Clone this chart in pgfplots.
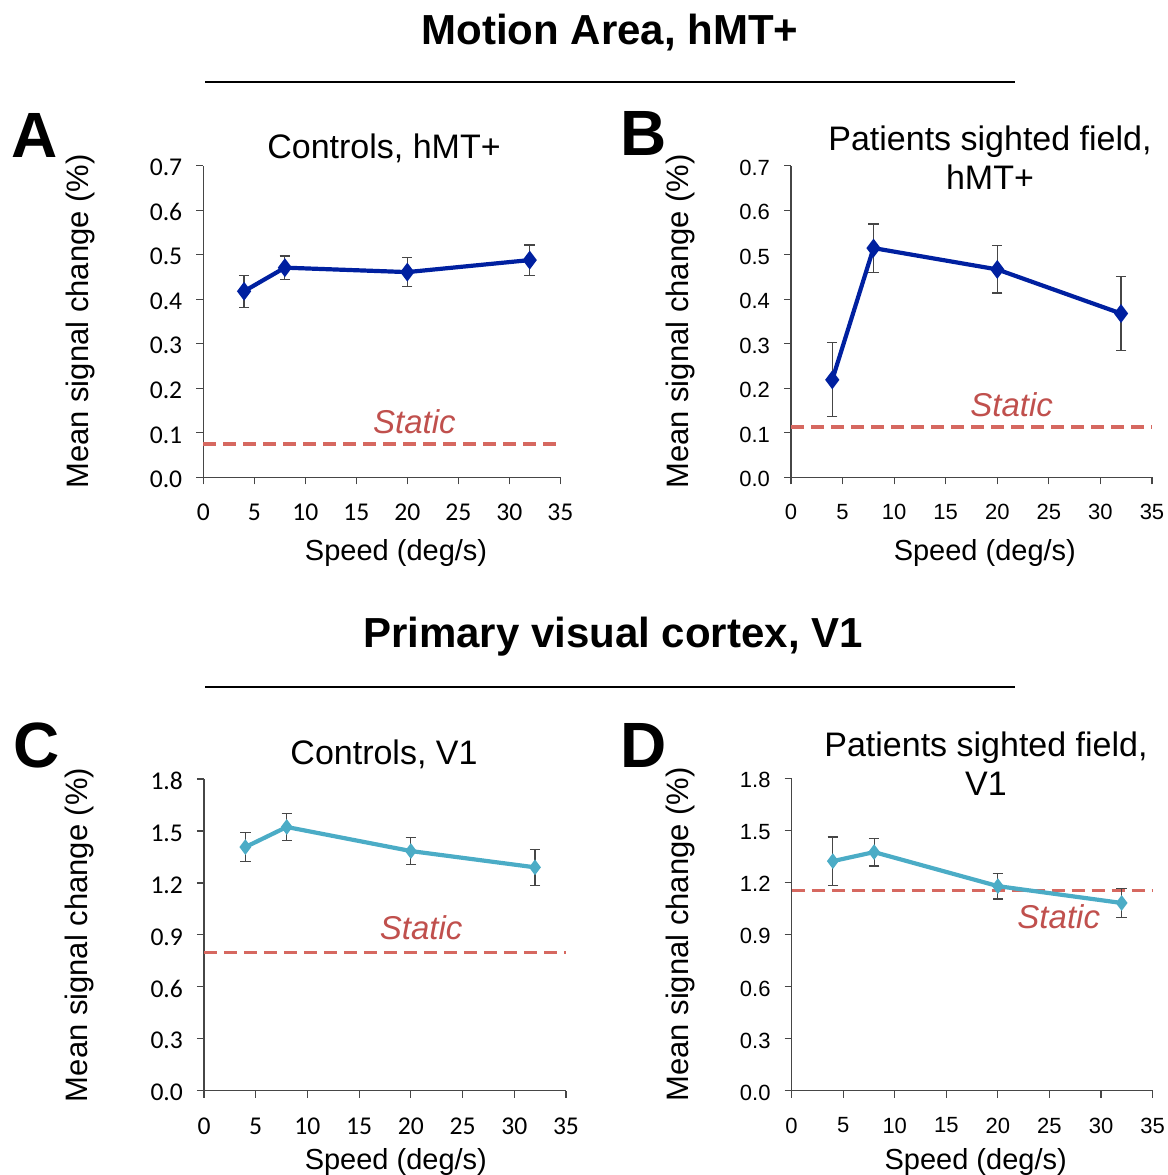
\documentclass[border=0pt]{standalone}
\usepackage{fontspec}
\setmainfont{Liberation Sans}
\newfontfamily\carlito{Carlito}
\usepackage{pgfplots}
\pgfplotsset{compat=1.18}
\definecolor{dblue}{RGB}{0,32,160}
\definecolor{lblue}{RGB}{75,172,198}
\definecolor{sred}{RGB}{192,80,77}
\definecolor{dred}{RGB}{214,104,96}
\definecolor{axgray}{RGB}{70,70,70}
\tikzset{statictext/.style={font=\itshape\fontsize{16.5}{18}\selectfont, text=sred}}
\pgfplotsset{
  panel/.style={
    scale only axis, anchor=south west,
    axis x line*=bottom, axis y line*=left,
    axis line style={axgray, line width=0.6pt},
    tick style={axgray, line width=0.6pt},
    tick align=outside, major tick length=3.5pt,
    xmin=0, xmax=35, xtick={0,5,10,15,20,25,30,35},
    clip=false,
    /pgf/number format/assume math mode=true,
    scaled y ticks=false,
    yticklabel style={/pgf/number format/fixed, /pgf/number format/fixed zerofill, /pgf/number format/precision=1, xshift=-3.5pt, yshift=-1pt},
    xticklabel style={yshift=-6.5pt},
    xlabel style={font=\fontsize{14.5}{17}\selectfont, anchor=center},
    ylabel style={font=\fontsize{15.5}{18}\selectfont, anchor=center},
    xlabel={Speed (deg/s)}, ylabel={Mean signal change (\%)},
  },
  ebar/.style={error bars/.cd, y dir=both, y explicit,
    error bar style={axgray, line width=0.6pt, solid},
    error mark options={rotate=90, mark size=2.6pt, axgray, line width=0.6pt, solid}},
  static/.style={dred, dash pattern=on 6.5pt off 3.5pt, line width=1.6pt, mark=none, forget plot},
  darkline/.style={dblue, line width=2.1pt, mark=diamond*, mark size=3pt, mark options={solid, fill=dblue, draw=dblue}},
  lightline/.style={lblue, line width=2.1pt, mark=diamond*, mark size=2.2pt, mark options={solid, fill=lblue, draw=lblue}},
}
\begin{document}
\begin{tikzpicture}
\useasboundingbox (0,0) rectangle (584pt,-587.5pt);
% section titles
\node[font=\bfseries\fontsize{21}{24}\selectfont] at (305pt,-16.5pt) {Motion Area, hMT+};
\draw[line width=1pt] (102.5pt,-41pt) -- (507.5pt,-41pt);
\node[font=\bfseries\fontsize{21}{24}\selectfont] at (306.5pt,-318.5pt) {Primary visual cortex, V1};
\draw[line width=1pt] (102.5pt,-343.5pt) -- (507.5pt,-343.5pt);
% panel letters
\node[font=\bfseries\fontsize{32}{36}\selectfont, anchor=base west, inner sep=0pt] at (5.5pt,-78.5pt) {A};
\node[font=\bfseries\fontsize{32}{36}\selectfont, anchor=base west, inner sep=0pt] at (310pt,-77.5pt) {B};
\node[font=\bfseries\fontsize{32}{36}\selectfont, anchor=base west, inner sep=0pt] at (6.5pt,-383.5pt) {C};
\node[font=\bfseries\fontsize{32}{36}\selectfont, anchor=base west, inner sep=0pt] at (310pt,-383.5pt) {D};
% panel titles
\node[font=\fontsize{17}{19.5}\selectfont] at (192pt,-74pt) {Controls, hMT+};
\node[font=\fontsize{17}{19.5}\selectfont, align=center] at (495pt,-78.75pt) {Patients sighted field,\\hMT+};
\node[font=\fontsize{17}{19.5}\selectfont] at (192pt,-377pt) {Controls, V1};
\node[font=\fontsize{17}{19.5}\selectfont, align=center] at (493pt,-381.75pt) {Patients sighted field,\\V1};

% Panel A
\begin{axis}[panel, at={(101.65pt,-238.65pt)}, width=178.5pt, height=155.8pt,
  ymin=0, ymax=0.7, ytick={0,0.1,0.2,0.3,0.4,0.5,0.6,0.7},
  ticklabel style={font=\carlito\fontsize{12.8}{14}\selectfont},
  ylabel style={at={(axis description cs:-0.345,0.5)}},
  xlabel style={at={(axis description cs:0.54,-0.243)}}]
\addplot[static] coordinates {(0,0.075) (35,0.075)};
\addplot[darkline, ebar] coordinates {(4,0.418) +- (0,0.036) (8,0.471) +- (0,0.026) (20,0.461) +- (0,0.032) (32,0.488) +- (0,0.034)};
\node[statictext] at (axis cs:20.7,0.126) {Static};
\end{axis}

% Panel B
\begin{axis}[panel, at={(395.5pt,-238.65pt)}, width=180.5pt, height=155.8pt,
  ymin=0, ymax=0.7, ytick={0,0.1,0.2,0.3,0.4,0.5,0.6,0.7},
  ticklabel style={font=\fontsize{11}{13}\selectfont},
  ylabel style={at={(axis description cs:-0.307,0.5)}},
  xlabel style={at={(axis description cs:0.537,-0.243)}}]
\addplot[static] coordinates {(0,0.113) (35,0.113)};
\addplot[darkline, ebar] coordinates {(4,0.219) +- (0,0.083) (8,0.515) +- (0,0.054) (20,0.467) +- (0,0.053) (32,0.368) +- (0,0.083)};
\node[statictext] at (axis cs:21.4,0.164) {Static};
\end{axis}

% Panel C
\begin{axis}[panel, at={(102pt,-545.35pt)}, width=181pt, height=155.85pt,
  ymin=0, ymax=1.8, ytick={0,0.3,0.6,0.9,1.2,1.5,1.8},
  ticklabel style={font=\carlito\fontsize{12.8}{14}\selectfont},
  ylabel style={at={(axis description cs:-0.343,0.5)}},
  xlabel style={at={(axis description cs:0.53,-0.228)}}]
\addplot[static] coordinates {(0,0.80) (35,0.80)};
\addplot[lightline, ebar] coordinates {(4,1.407) +- (0,0.085) (8,1.523) +- (0,0.078) (20,1.384) +- (0,0.078) (32,1.290) +- (0,0.103)};
\node[statictext] at (axis cs:21.0,0.942) {Static};
\end{axis}

% Panel D
\begin{axis}[panel, at={(395.8pt,-545.35pt)}, width=180.5pt, height=156.3pt,
  ymin=0, ymax=1.8, ytick={0,0.3,0.6,0.9,1.2,1.5,1.8},
  ticklabel style={font=\fontsize{11}{13}\selectfont},
  ylabel style={at={(axis description cs:-0.308,0.5)}},
  xlabel style={at={(axis description cs:0.51,-0.228)}}]
\addplot[static] coordinates {(0,1.155) (35,1.155)};
\addplot[lightline, ebar] coordinates {(4,1.322) +- (0,0.139) (8,1.374) +- (0,0.080) (20,1.178) +- (0,0.074) (32,1.081) +- (0,0.085)};
\node[statictext] at (axis cs:25.9,1.0) {Static};
\end{axis}
\end{tikzpicture}
\end{document}
